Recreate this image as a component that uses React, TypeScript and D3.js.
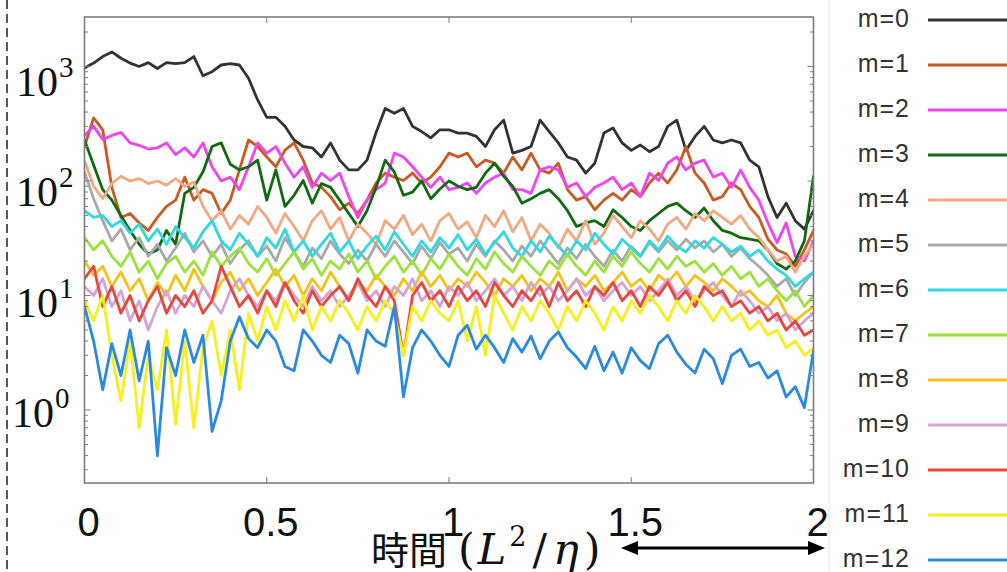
import * as d3 from 'd3'

// sample times (L^2/eta), one every 0.025
const times = d3.range(81).map(i => i / 40)

const seriesNames = ['m=0', 'm=1', 'm=2', 'm=3', 'm=4', 'm=5', 'm=6', 'm=7', 'm=8', 'm=9', 'm=10', 'm=11', 'm=12']
const seriesColors = [
  '#333333', '#c95a22', '#f044ee', '#0f6a12', '#f3a882', '#a9a9a9', '#30d8df',
  '#9ce23c', '#f6c219', '#d3a3d9', '#e8463e', '#f5f01e', '#2a8ae2',
]

const m0 = [
  970, 1070, 1220, 1340, 1180, 1070, 1000, 1080, 960, 1080,
  1060, 1080, 1220, 830, 900, 1030, 1060, 1030, 790, 510,
  360, 360, 300, 228, 200, 195, 162, 215, 152, 125,
  125, 152, 265, 430, 390, 430, 300, 270, 238, 280,
  280, 262, 262, 245, 200, 280, 340, 175, 185, 200,
  340, 270, 215, 162, 152, 117, 143, 262, 290, 215,
  185, 206, 180, 200, 300, 340, 185, 245, 300, 228,
  215, 228, 215, 152, 133, 73, 48, 64, 45, 38,
  55,
]
const m1 = [
  200, 355, 280, 88, 48, 52, 43, 37, 48, 60,
  68, 108, 68, 84, 78, 52, 68, 125, 228, 200,
  162, 133, 186, 215, 152, 96, 88, 73, 56, 64,
  52, 68, 96, 117, 108, 101, 117, 96, 108, 133,
  175, 162, 175, 133, 152, 143, 117, 162, 125, 175,
  125, 117, 143, 84, 68, 73, 56, 68, 78, 68,
  84, 73, 96, 117, 96, 125, 200, 117, 96, 68,
  73, 96, 84, 60, 48, 31, 25, 23, 18, 25,
  37,
]
const m2 = [
  250, 300, 230, 250, 265, 215, 205, 190, 195, 215,
  170, 195, 162, 215, 133, 100, 108, 84, 133, 215,
  175, 200, 143, 108, 133, 88, 117, 101, 117, 73,
  48, 68, 84, 96, 175, 162, 133, 108, 88, 108,
  84, 88, 96, 78, 96, 108, 117, 84, 84, 78,
  125, 133, 125, 88, 96, 73, 88, 96, 108, 84,
  96, 73, 117, 101, 143, 162, 125, 143, 152, 108,
  117, 88, 125, 88, 68, 43, 29, 43, 22, 20,
  30,
]
const m3 = [
  228, 138, 84, 68, 50, 37, 28, 23, 25, 37,
  28, 78, 88, 120, 200, 215, 140, 125, 133, 152,
  68, 125, 60, 75, 101, 64, 95, 88, 68, 52,
  40, 55, 88, 152, 120, 75, 80, 100, 70, 85,
  100, 90, 84, 88, 117, 143, 110, 90, 64, 70,
  78, 84, 70, 55, 40, 43, 45, 40, 56, 48,
  40, 37, 45, 52, 60, 64, 55, 48, 58, 45,
  37, 35, 32, 31, 30, 25, 19, 17, 20, 30,
  110,
]
const m4 = [
  150, 90, 70, 95, 110, 100, 105, 95, 100, 92,
  105, 90, 98, 60, 45, 55, 38, 50, 42, 60,
  48, 35, 52, 40, 30, 45, 55, 38, 48, 30,
  42, 35, 28, 45, 38, 50, 34, 42, 30, 45,
  52, 38, 44, 32, 50, 40, 55, 36, 48, 30,
  42, 35, 26, 38, 30, 45, 28, 35, 50, 40,
  32, 45, 38, 30, 42, 48, 38, 52, 45, 55,
  48, 42, 50, 38, 32, 25, 20, 22, 16, 22,
  28,
]
const m5 = [
  120, 70, 45, 30, 38, 25, 32, 22, 28, 20,
  26, 35, 24, 30, 22, 28, 19, 25, 30, 22,
  27, 20, 32, 24, 18, 26, 21, 30, 23, 19,
  25, 20, 28, 22, 30, 24, 19, 27, 21, 29,
  23, 26, 20, 28, 22, 30, 25, 20, 27, 22,
  30, 24, 19, 26, 21, 28, 22, 18, 25, 20,
  27, 22, 29, 24, 30, 25, 31, 26, 30, 24,
  28, 22, 26, 21, 18, 15, 12, 14, 10, 13,
  16,
]
const m6 = [
  55, 48, 50, 40, 45, 35, 42, 30, 38, 28,
  40, 32, 26, 36, 45, 30, 25, 35, 28, 22,
  32, 26, 38, 24, 30, 22, 28, 35, 24, 30,
  21, 27, 33, 25, 36, 28, 22, 30, 24, 32,
  26, 34, 25, 31, 23, 29, 36, 26, 22, 30,
  24, 33, 27, 22, 30, 25, 35, 28, 23, 31,
  26, 22, 30, 25, 33, 27, 24, 30, 26, 32,
  28, 24, 27, 22, 25, 20, 17, 15, 12, 14,
  16,
]
const m7 = [
  32, 25, 30, 22, 18, 24, 16, 20, 14, 19,
  22, 16, 20, 15, 24, 18, 22, 26, 19, 16,
  21, 15, 19, 24, 17, 21, 15, 20, 17, 23,
  16, 20, 14, 18, 22, 16, 20, 15, 21, 17,
  23, 18, 15, 21, 17, 24, 19, 16, 22, 18,
  15, 20, 17, 23, 18, 15, 20, 16, 22, 18,
  24, 19, 16, 21, 17, 22, 18, 20, 16, 19,
  15, 18, 14, 16, 12, 14, 11, 9, 11, 8,
  10,
]
const m8 = [
  20, 15, 18, 12, 16, 11, 14, 9, 13, 10,
  15, 11, 17, 12, 9, 13, 16, 11, 14, 10,
  13, 17, 12, 15, 10, 14, 11, 16, 12, 9,
  13, 11, 15, 12, 10, 14, 11, 16, 12, 15,
  11, 14, 12, 16, 13, 10, 14, 12, 15, 11,
  14, 12, 16, 11, 14, 12, 15, 11, 13, 16,
  12, 14, 11, 15, 13, 16, 12, 15, 13, 11,
  14, 12, 10, 11, 9, 8, 10, 7, 6, 7,
  8,
]
const m9 = [
  12, 10, 14, 8, 11, 6, 9, 5, 8, 11,
  7, 10, 8, 12, 9, 7, 11, 14, 10, 8,
  11, 9, 13, 10, 8, 12, 9, 11, 8, 10,
  13, 9, 11, 8, 12, 10, 14, 9, 11, 8,
  12, 10, 13, 9, 11, 14, 10, 12, 9, 13,
  10, 12, 9, 11, 14, 10, 12, 9, 11, 13,
  10, 12, 9, 11, 14, 10, 12, 9, 11, 13,
  10, 8, 11, 9, 7, 8, 6, 7, 5, 6,
  7,
]
const m10 = [
  14, 18, 8, 12, 7, 10, 6, 9, 12, 7,
  10, 8, 11, 7, 9, 18, 12, 8, 10, 7,
  11, 8, 13, 9, 7, 11, 8, 10, 12, 9,
  14, 10, 8, 12, 9, 3, 10, 13, 9, 11,
  8, 12, 9, 11, 8, 13, 10, 8, 11, 9,
  12, 8, 13, 9, 11, 8, 12, 10, 13, 9,
  11, 8, 12, 10, 13, 9, 11, 8, 12, 10,
  11, 8, 9, 7, 8, 6, 7, 5, 6, 4.5,
  5,
]
const m11 = [
  9, 6, 10, 3, 1.2, 4, 0.7, 3, 1.5, 5,
  0.75, 4, 0.7, 3.5, 6, 2, 5, 1.5, 7, 4,
  8, 5, 9, 6, 10, 5, 8, 6, 9, 7,
  5, 8, 6, 9, 7, 3, 8, 6, 9, 7,
  6, 9, 4, 8, 3, 10, 7, 5, 8, 6,
  9, 7, 5, 8, 6, 9, 7, 5, 8, 6,
  9, 7, 10, 8, 6, 9, 7, 10, 8, 6,
  8, 6, 7, 5, 6, 4.5, 5, 3.5, 4, 3,
  3.5,
]
const m12 = [
  8, 4, 1.5, 3.8, 2, 5, 1.8, 4, 0.4, 3.5,
  2, 5, 2.6, 4.5, 0.65, 1.2, 4, 6.5, 4.2, 3.5,
  5, 4, 2.4, 2.2, 5, 4, 3, 2.6, 4.5, 3.8,
  2.1, 5, 4, 3.6, 8, 1.3, 3.5, 5, 4, 3,
  2.4, 4.5, 5.5, 3.4, 4.5, 3.5, 2.6, 4.2, 3.2, 4.4,
  2.8, 4, 4.8, 3.5, 2.9, 2.3, 3.6, 2.2, 3.2, 2.1,
  3.5, 2.7, 2.3, 3.8, 4.5, 3.2, 2.5, 2.1, 3.4, 2.8,
  1.7, 3, 3.4, 2.4, 2.6, 1.9, 2.2, 1.3, 1.6, 1.05,
  3.3,
]
const seriesValues = [m0, m1, m2, m3, m4, m5, m6, m7, m8, m9, m10, m11, m12]

const xTicks = [0, 0.5, 1, 1.5, 2]
const xTickLabels = ['0', '0.5', '1', '1.5', '2']
const yDecades = [0, 1, 2, 3]

const W = 1007
const H = 572
const plot = { left: 84.5, right: 813.5, top: 17, bottom: 483 }

export default function App() {
  const x = d3.scaleLinear().domain([0, 2]).range([plot.left, plot.right])
  const y = d3.scaleLog().domain([0.2304, 2704]).range([plot.bottom, plot.top])
  // the 10^k labels are pasted on top of the figure, slightly off the ticks
  const labelY = d3.scaleLinear().domain([0, 3]).range([427, 96])
  const legendY = d3.scalePoint<string>().domain(seriesNames).range([19, 559])

  const line = d3.line<number>()
    .x((_, i) => x(times[i]))
    .y(d => y(d))

  const yTicks = y.ticks()
  const isMajor = (v: number) => Math.abs(Math.log10(v) - Math.round(Math.log10(v))) < 1e-6

  const frame = '#7d7d7d'
  const arrowY = 548
  const mathFont = "'DejaVu Serif', serif"

  return (
    <svg width={W} height={H} style={{ position: 'absolute', left: 0, top: 0, background: '#fff' }}>
      <defs>
        <clipPath id="plot-clip">
          <rect x={plot.left} y={plot.top} width={plot.right - plot.left} height={plot.bottom - plot.top} />
        </clipPath>
      </defs>

      {/* dashed divider on the far left */}
      <line x1={7} x2={7} y1={0} y2={H} stroke="#222" strokeWidth={1.5} strokeDasharray="9,5" />
      {/* faint edge of the legend image */}
      <line x1={829} x2={829} y1={0} y2={H} stroke="#ececec" strokeWidth={1.5} />

      {/* data */}
      <g clipPath="url(#plot-clip)">
        {seriesValues.map((vals, k) => (
          <path key={k} d={line(vals) ?? ''} fill="none" stroke={seriesColors[k]}
            strokeWidth={2.8} strokeLinejoin="round" strokeLinecap="round" />
        ))}
      </g>

      {/* frame + ticks */}
      <rect x={plot.left} y={plot.top} width={plot.right - plot.left} height={plot.bottom - plot.top}
        fill="none" stroke={frame} strokeWidth={1.6} />
      {xTicks.map(t => (
        <g key={t} stroke={frame} strokeWidth={1}>
          <line x1={x(t)} x2={x(t)} y1={plot.bottom} y2={plot.bottom - 6} />
          <line x1={x(t)} x2={x(t)} y1={plot.top} y2={plot.top + 6} />
        </g>
      ))}
      {yTicks.map(v => {
        const len = isMajor(v) ? 6 : 3.5
        return (
          <g key={v} stroke={frame} strokeWidth={1}>
            <line x1={plot.left} x2={plot.left + len} y1={y(v)} y2={y(v)} />
            <line x1={plot.right} x2={plot.right - len} y1={y(v)} y2={y(v)} />
          </g>
        )
      })}

      {/* y tick labels */}
      {yDecades.map(k => (
        <text key={k} x={k === 0 ? 12 : 16} y={labelY(k)} fontFamily="'Liberation Serif', serif" fontSize={42} fill="#111">
          10<tspan fontSize={29} dy={-19} dx={1}>{k}</tspan>
        </text>
      ))}

      {/* x tick labels */}
      {xTicks.map((t, i) => (
        <text key={t} x={x(t) + 4} y={536} textAnchor="middle"
          fontFamily="'Liberation Sans Narrow', 'Liberation Sans', sans-serif" fontSize={40} fill="#111">
          {xTickLabels[i]}
        </text>
      ))}

      {/* x axis title */}
      <text x={371} y={564} fill="#111">
        <tspan fontFamily="'Noto Sans CJK JP', sans-serif" fontSize={38}>時間</tspan>
        <tspan fontFamily={mathFont} fontSize={43} dx={11}>(</tspan>
        <tspan fontFamily={mathFont} fontSize={43} fontStyle="italic" dx={3}>L</tspan>
        <tspan fontFamily={mathFont} fontSize={27} dy={-18} dx={3}>2</tspan>
        <tspan fontFamily={mathFont} fontSize={43} dy={18} dx={6}>/</tspan>
        <tspan fontFamily={mathFont} fontSize={43} fontStyle="italic" dx={6}>η</tspan>
        <tspan fontFamily={mathFont} fontSize={43} dx={5}>)</tspan>
      </text>

      {/* double arrow under 1.5 .. 2 */}
      <g fill="#000" stroke="#000">
        <line x1={634} x2={812} y1={arrowY} y2={arrowY} strokeWidth={3} />
        <path d={`M621,${arrowY} L638,${arrowY - 7} L638,${arrowY + 7} Z`} stroke="none" />
        <path d={`M825,${arrowY} L808,${arrowY - 7} L808,${arrowY + 7} Z`} stroke="none" />
      </g>

      {/* legend */}
      {seriesNames.map((name, k) => {
        const ly = legendY(name) ?? 0
        return (
          <g key={name}>
            <text x={910} y={ly + 8} textAnchor="end" fontFamily="'Liberation Sans', Arial, sans-serif"
              fontSize={25} letterSpacing={1} fill="#333">{name}</text>
            <line x1={928} x2={W} y1={ly + 1} y2={ly + 1} stroke={seriesColors[k]} strokeWidth={3} />
          </g>
        )
      })}
    </svg>
  )
}
